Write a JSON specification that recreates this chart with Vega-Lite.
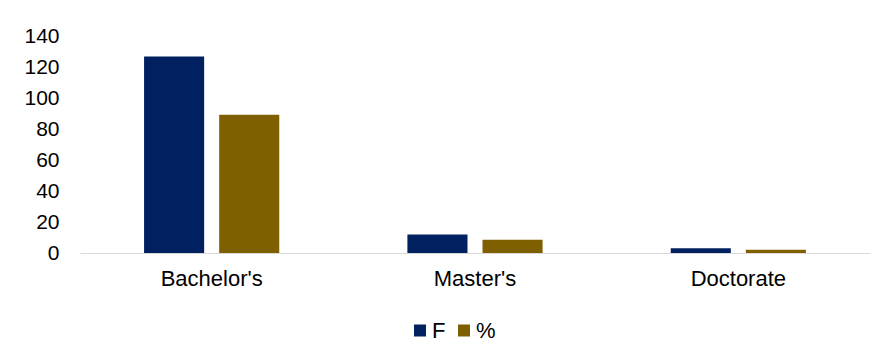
{
  "$schema": "https://vega.github.io/schema/vega-lite/v6.json",
  "width": 790,
  "height": 216.5,
  "autosize": "none",
  "padding": {"left": 80, "top": 36.5, "right": 14, "bottom": 104},
  "background": "#ffffff",
  "config": {
    "view": {"stroke": null},
    "font": "Liberation Sans",
    "axis": {"labelColor": "#000000", "labelFont": "Liberation Sans"},
    "legend": {"labelColor": "#000000", "labelFont": "Liberation Sans"}
  },
  "data": {
    "values": [
      {"level": "Bachelor's", "series": "F", "value": 127},
      {"level": "Bachelor's", "series": "%", "value": 89.4},
      {"level": "Master's", "series": "F", "value": 12},
      {"level": "Master's", "series": "%", "value": 8.5},
      {"level": "Doctorate", "series": "F", "value": 3},
      {"level": "Doctorate", "series": "%", "value": 2.1}
    ]
  },
  "mark": {"type": "bar"},
  "encoding": {
    "x": {
      "field": "level",
      "type": "nominal",
      "sort": ["Bachelor's", "Master's", "Doctorate"],
      "scale": {"paddingInner": 0, "paddingOuter": 0},
      "axis": {
        "title": null,
        "labelAngle": 0,
        "ticks": false,
        "domainColor": "#d9d9d9",
        "domainWidth": 1,
        "labelFontSize": 22,
        "labelPadding": 15
      }
    },
    "xOffset": {
      "field": "series",
      "sort": ["F", "%"],
      "scale": {"paddingInner": 0.2, "paddingOuter": 0.853}
    },
    "y": {
      "field": "value",
      "type": "quantitative",
      "scale": {"domain": [0, 140]},
      "axis": {
        "title": null,
        "values": [0, 20, 40, 60, 80, 100, 120, 140],
        "grid": false,
        "domain": false,
        "ticks": false,
        "labelPadding": 21,
        "labelFontSize": 21
      }
    },
    "color": {
      "field": "series",
      "type": "nominal",
      "sort": ["F", "%"],
      "scale": {"domain": ["F", "%"], "range": ["#002060", "#7F6000"]},
      "legend": {
        "orient": "none",
        "legendX": 329,
        "legendY": 283,
        "direction": "horizontal",
        "title": null,
        "symbolType": "square",
        "symbolSize": 144,
        "symbolStrokeWidth": 0,
        "labelFontSize": 22,
        "labelOffset": 1,
        "columnPadding": 7
      }
    }
  }
}
